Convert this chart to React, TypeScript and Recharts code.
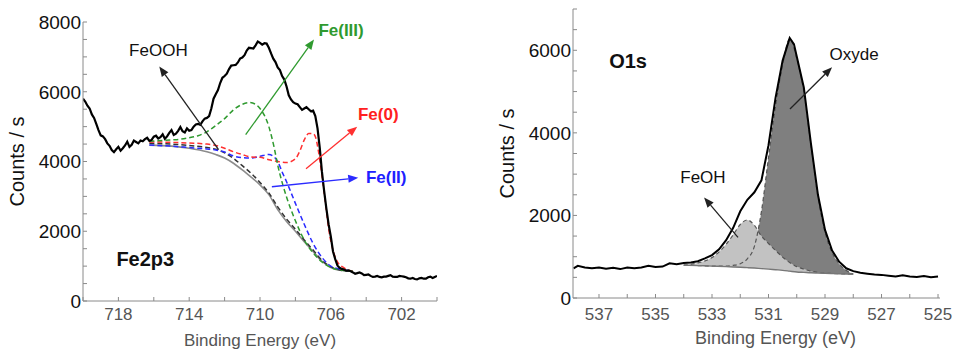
import { ComposedChart, Line, Area, XAxis, YAxis, ReferenceLine, ReferenceDot } from "recharts";

const FONT = '"Liberation Sans", Arial, Helvetica, sans-serif';
const AXIS = "#8a8a8a";

// Fe 2p3/2 — [binding energy (eV), counts/s]
const fe2pRaw: [number, number][] = [
  [720, 5800], [719.875, 5720], [719.75, 5600], [719.625, 5520], [719.5, 5350], [719.375, 5250],
  [719.25, 5080], [719.125, 4900], [719, 4750], [718.875, 4720], [718.75, 4640], [718.625, 4520],
  [718.5, 4450], [718.375, 4330], [718.25, 4270], [718.125, 4350], [718, 4420], [717.875, 4310],
  [717.75, 4380], [717.625, 4460], [717.5, 4570], [717.375, 4420], [717.25, 4480], [717.125, 4600],
  [717, 4560], [716.875, 4520], [716.75, 4600], [716.625, 4580], [716.5, 4640], [716.375, 4680],
  [716.25, 4590], [716.125, 4620], [716, 4710], [715.875, 4740], [715.75, 4660], [715.625, 4700],
  [715.5, 4780], [715.375, 4650], [715.25, 4720], [715.125, 4820], [715, 4900], [714.875, 4760],
  [714.75, 4800], [714.625, 4880], [714.5, 4990], [714.375, 4870], [714.25, 4830], [714.125, 4950],
  [714, 4880], [713.875, 4900], [713.75, 5000], [713.625, 5060], [713.5, 5080], [713.375, 5050],
  [713.25, 5150], [713.125, 5230], [713, 5250], [712.875, 5300], [712.75, 5520], [712.625, 5800],
  [712.5, 5930], [712.375, 6050], [712.25, 6250], [712.125, 6400], [712, 6450], [711.875, 6520],
  [711.75, 6650], [711.625, 6750], [711.5, 6760], [711.375, 6770], [711.25, 6840], [711.125, 6950],
  [711, 6980], [710.875, 7050], [710.75, 7180], [710.625, 7260], [710.5, 7250], [710.375, 7240],
  [710.25, 7330], [710.125, 7440], [710, 7400], [709.875, 7350], [709.75, 7390], [709.625, 7380],
  [709.5, 7260], [709.375, 7100], [709.25, 6950], [709.125, 6850], [709, 6700], [708.875, 6620],
  [708.75, 6450], [708.625, 6350], [708.5, 6150], [708.375, 5900], [708.25, 5780], [708.125, 5700],
  [708, 5660], [707.875, 5640], [707.75, 5560], [707.625, 5480], [707.5, 5520], [707.375, 5560],
  [707.25, 5500], [707.125, 5440], [707, 5460], [706.875, 5300], [706.75, 4950], [706.625, 4400],
  [706.5, 3700], [706.375, 3150], [706.25, 2650], [706.125, 2200], [706, 1850], [705.875, 1420],
  [705.75, 1200], [705.625, 1020], [705.5, 950], [705.375, 920], [705.25, 900], [705.125, 870],
  [705, 880], [704.875, 850], [704.75, 820], [704.625, 780], [704.5, 800], [704.375, 820],
  [704.25, 790], [704.125, 740], [704, 750], [703.875, 760], [703.75, 720], [703.625, 690],
  [703.5, 700], [703.375, 720], [703.25, 690], [703.125, 680], [703, 700], [702.875, 700],
  [702.75, 720], [702.625, 740], [702.5, 700], [702.375, 690], [702.25, 690], [702.125, 720],
  [702, 710], [701.875, 700], [701.75, 680], [701.625, 650], [701.5, 640], [701.375, 660],
  [701.25, 630], [701.125, 620], [701, 650], [700.875, 660], [700.75, 640], [700.625, 640],
  [700.5, 680], [700.375, 700], [700.25, 660], [700.125, 690], [700, 720],
];
const fe2pBackground: [number, number][] = [
  [716.25, 4470], [715, 4440], [714, 4380], [713, 4280], [712.5, 4200], [712, 4100], [711.5, 3950],
  [711, 3760], [710.5, 3550], [710, 3330], [709.5, 3050], [709, 2620], [708.5, 2280], [708, 2000],
  [707.5, 1700], [707, 1420], [706.5, 1140], [706, 960], [705.5, 880], [705, 860], [704.75, 850],
];
const fe2pFeOOH: [number, number][] = [
  [716.25, 4520], [715, 4500], [714, 4460], [713, 4400], [712.5, 4350], [712, 4250], [711.5, 4090],
  [711, 3880], [710.5, 3660], [710, 3400], [709.5, 3100], [709, 2700], [708.5, 2350], [708, 2060],
  [707.5, 1750], [707, 1460], [706.5, 1170], [706, 980], [705.5, 890], [705, 860], [704.75, 850],
];
const fe2pFeII: [number, number][] = [
  [716.25, 4470], [715, 4440], [714, 4400], [713, 4360], [712.5, 4330], [712, 4270], [711.5, 4160],
  [711, 4110], [710.5, 4100], [710, 4150], [709.5, 4200], [709.2, 4130], [709, 4000], [708.75, 3700],
  [708.5, 3420], [708, 2800], [707.5, 2200], [707, 1650], [706.5, 1250], [706, 1000], [705.5, 920],
  [705, 870], [704.75, 850],
];
const fe2pFe0: [number, number][] = [
  [716.25, 4560], [715, 4550], [714, 4530], [713, 4500], [712.5, 4460], [712, 4380], [711.5, 4280],
  [711, 4200], [710.5, 4130], [710, 4120], [709.5, 4050], [709, 4000], [708.5, 3970], [708, 4080],
  [707.75, 4300], [707.5, 4620], [707.25, 4800], [707, 4800], [706.85, 4680], [706.7, 4300],
  [706.5, 3600], [706.3, 2800], [706.1, 2000], [705.9, 1500], [705.6, 1100], [705.25, 950],
  [705, 880], [704.75, 850],
];
const fe2pFeIII: [number, number][] = [
  [716.25, 4580], [715, 4620], [714.5, 4640], [714, 4680], [713.5, 4740], [713, 4850], [712.5, 5030],
  [712, 5230], [711.5, 5480], [711, 5640], [710.6, 5690], [710.25, 5640], [710, 5520], [709.5, 5000],
  [709.2, 4400], [709, 3900], [708.75, 3400], [708.5, 2980], [708.25, 2620], [708, 2300],
  [707.5, 1750], [707, 1380], [706.5, 1120], [706, 960], [705.5, 890], [705, 860], [704.75, 850],
];

// O 1s — [binding energy (eV), counts/s]
const o1sRaw: [number, number][] = [
  [537.9, 720], [537.75, 780], [537.5, 740], [537.25, 720], [537, 740], [536.75, 710],
  [536.5, 730], [536.25, 700], [536, 740], [535.75, 720], [535.5, 740], [535.25, 780],
  [535, 750], [534.75, 760], [534.5, 840], [534.25, 820], [534, 850], [533.75, 860],
  [533.5, 890], [533.25, 960], [533, 1040], [532.75, 1180], [532.5, 1400], [532.25, 1700],
  [532, 2100], [531.75, 2380], [531.5, 2560], [531.25, 2850], [531, 3700], [530.75, 4850],
  [530.5, 5750], [530.25, 6300], [530.1, 6150], [530, 5850], [529.75, 5100], [529.5, 3750],
  [529.25, 2500], [529, 1650], [528.75, 1150], [528.5, 880], [528.25, 720], [528, 650],
  [527.75, 610], [527.5, 590], [527.25, 570], [527, 560], [526.75, 540], [526.5, 520],
  [526.25, 550], [526, 520], [525.75, 510], [525.5, 530], [525.25, 500], [525, 520],
];
const o1sFitEnergy = [534, 533.5, 533, 532.5, 532.25, 532, 531.75, 531.5, 531.25, 531, 530.75, 530.5, 530.25, 530, 529.75, 529.5, 529.25, 529, 528.75, 528.5, 528.25, 528];
const o1sBackground = [795, 785, 772, 760, 752, 745, 735, 725, 712, 700, 685, 670, 650, 630, 620, 610, 604, 598, 593, 588, 582, 575];
const o1sOxyde = [795, 785, 772, 775, 790, 830, 950, 1250, 2100, 3400, 4650, 5650, 6280, 5800, 5000, 3700, 2450, 1600, 1100, 830, 670, 580];
const o1sFeOH = [795, 850, 980, 1300, 1530, 1780, 1890, 1760, 1500, 1320, 1150, 990, 860, 760, 700, 650, 620, 600, 593, 588, 582, 575];

const fe2pXTicks = [720, 718, 716, 714, 712, 710, 708, 706, 704, 702, 700];
const fe2pXLabels = [718, 714, 710, 706, 702];
const fe2pYTicks = [0, 500, 1000, 1500, 2000, 2500, 3000, 3500, 4000, 4500, 5000, 5500, 6000, 6500, 7000, 7500, 8000];
const fe2pYLabels = [0, 2000, 4000, 6000, 8000];
const o1sXTicks = [537, 536, 535, 534, 533, 532, 531, 530, 529, 528, 527, 526, 525];
const o1sXLabels = [537, 535, 533, 531, 529, 527, 525];
const o1sYTicks = [0, 500, 1000, 1500, 2000, 2500, 3000, 3500, 4000, 4500, 5000, 5500, 6000, 6500, 7000];
const o1sYLabels = [0, 2000, 4000, 6000];

const pts = (rows: [number, number][]) => rows.map(([e, c]) => ({ e, c }));
const o1sFit = o1sFitEnergy.map((e, i) => ({ e, bg: o1sBackground[i], oxyde: o1sOxyde[i], feoh: o1sFeOH[i] }));

const xTick = (labels: number[], gap: number) => (p: any) => {
  const v = p.payload.value;
  const axisY = p.y - gap;
  return (
    <g>
      <line x1={p.x} x2={p.x} y1={axisY} y2={axisY - 4} stroke={AXIS} />
      {labels.includes(v) && (
        <text x={p.x} y={p.y} dy="0.72em" textAnchor="middle" fill="#555" fontSize={17}>{v}</text>
      )}
    </g>
  );
};

const yTick = (labels: number[], gap: number) => (p: any) => {
  const v = p.payload.value;
  const axisX = p.x + gap;
  return (
    <g>
      <line x1={axisX} x2={axisX + 4} y1={p.y} y2={p.y} stroke={AXIS} />
      {labels.includes(v) && (
        <text x={p.x} y={p.y} dy="0.36em" textAnchor="end" fill="#111" fontSize={19}>{v}</text>
      )}
    </g>
  );
};

const arrow = (color: string) => (p: any) => {
  const { x1, y1, x2, y2 } = p;
  const a = Math.atan2(y2 - y1, x2 - x1);
  const bx = x2 - 10 * Math.cos(a);
  const by = y2 - 10 * Math.sin(a);
  const s = 4 * Math.sin(a);
  const c = 4 * Math.cos(a);
  return (
    <g>
      <line x1={x1} y1={y1} x2={bx} y2={by} stroke={color} strokeWidth={1.3} />
      <polygon points={`${x2},${y2} ${bx + s},${by - c} ${bx - s},${by + c}`} fill={color} />
    </g>
  );
};

const note = (x: number, y: number, value: string, fill: string, fontSize: number, bold = false) => (
  <ReferenceDot
    x={x} y={y} r={0} fill="none" stroke="none"
    label={{ value, position: "center", fill, fontSize, fontWeight: bold ? "bold" : "normal" }}
  />
);

function Fe2pChart() {
  const dash = { dot: false, activeDot: false, isAnimationActive: false, type: "monotone" as const, strokeWidth: 1.5, strokeDasharray: "5 3" };
  return (
    <ComposedChart width={480} height={354} margin={{ top: 22, right: 43, bottom: 3, left: 0 }}>
      <XAxis
        type="number" dataKey="e" domain={[700, 720]} reversed allowDataOverflow
        ticks={fe2pXTicks} interval={0} tickSize={0} tickMargin={7} tickLine={false}
        axisLine={{ stroke: AXIS }} height={50} tick={xTick(fe2pXLabels, 7)}
        label={{ value: "Binding Energy (eV)", position: "insideBottom", offset: 5, fill: "#555", fontSize: 17 }}
      />
      <YAxis
        type="number" domain={[0, 8000]} allowDataOverflow ticks={fe2pYTicks} interval={0}
        tickSize={0} tickMargin={2} tickLine={false} axisLine={{ stroke: AXIS }} width={83}
        tick={yTick(fe2pYLabels, 2)}
        label={{ value: "Counts / s", angle: -90, position: "insideLeft", offset: 17, fill: "#111", fontSize: 20, style: { textAnchor: "middle" } }}
      />
      <Line data={pts(fe2pBackground)} dataKey="c" stroke="#8c8c8c" strokeWidth={1.6} dot={false} activeDot={false} type="monotone" isAnimationActive={false} />
      <Line data={pts(fe2pFeOOH)} dataKey="c" stroke="#333" {...dash} />
      <Line data={pts(fe2pFeII)} dataKey="c" stroke="#2b2bff" {...dash} />
      <Line data={pts(fe2pFe0)} dataKey="c" stroke="#ff3030" {...dash} />
      <Line data={pts(fe2pFeIII)} dataKey="c" stroke="#2f9a2f" {...dash} />
      <Line data={pts(fe2pRaw)} dataKey="c" stroke="#000" strokeWidth={2.2} dot={false} activeDot={false} isAnimationActive={false} />

      <ReferenceLine segment={[{ x: 712.34, y: 4339 }, { x: 715.69, y: 6724 }]} ifOverflow="visible" shape={arrow("#222")} />
      <ReferenceLine segment={[{ x: 710.81, y: 4770 }, { x: 706.95, y: 7500 }]} ifOverflow="visible" shape={arrow("#2f9a2f")} />
      <ReferenceLine segment={[{ x: 707.4, y: 3793 }, { x: 704.51, y: 5000 }]} ifOverflow="visible" shape={arrow("#ff3030")} />
      <ReferenceLine segment={[{ x: 709.33, y: 3276 }, { x: 704.45, y: 3534 }]} ifOverflow="visible" shape={arrow("#2b2bff")} />

      {note(715.74, 7184, "FeOOH", "#111", 17)}
      {note(705.42, 7759, "Fe(III)", "#2f9a2f", 17, true)}
      {note(703.32, 5374, "Fe(0)", "#ff2020", 17, true)}
      {note(702.87, 3563, "Fe(II)", "#2020ff", 17, true)}
      {note(716.48, 1207, "Fe2p3", "#111", 20, true)}
    </ComposedChart>
  );
}

function O1sChart() {
  const outline = { dot: false, activeDot: false, isAnimationActive: false, type: "monotone" as const, stroke: "#555", strokeWidth: 1.2, strokeDasharray: "4 3" };
  return (
    <ComposedChart width={476} height={354} margin={{ top: 9, right: 16, bottom: 6, left: 0 }}>
      <XAxis
        type="number" dataKey="e" domain={[524.93, 537.92]} reversed allowDataOverflow
        ticks={o1sXTicks} interval={0} tickSize={0} tickMargin={10} tickLine={false}
        axisLine={{ stroke: AXIS }} height={50} tick={xTick(o1sXLabels, 10)}
        label={{ value: "Binding Energy (eV)", position: "insideBottom", offset: 4, dx: 19, fill: "#555", fontSize: 18 }}
      />
      <YAxis
        type="number" domain={[0, 7000]} allowDataOverflow ticks={o1sYTicks} interval={0}
        tickSize={0} tickMargin={2} tickLine={false} axisLine={{ stroke: AXIS }} width={93}
        tick={yTick(o1sYLabels, 2)}
        label={{ value: "Counts / s", angle: -90, position: "insideLeft", offset: 27, fill: "#111", fontSize: 20, style: { textAnchor: "middle" } }}
      />
      <Area data={o1sFit} dataKey={(d: any) => [d.bg, d.oxyde]} type="monotone" fill="#7f7f7f" fillOpacity={1} stroke="none" isAnimationActive={false} />
      <Area data={o1sFit} dataKey={(d: any) => [d.bg, d.feoh]} type="monotone" fill="#c2c2c2" fillOpacity={1} stroke="none" isAnimationActive={false} />
      <Line data={o1sFit} dataKey="oxyde" {...outline} />
      <Line data={o1sFit} dataKey="feoh" {...outline} />
      <Line data={o1sFit} dataKey="bg" stroke="#777" strokeWidth={1.4} dot={false} activeDot={false} type="monotone" isAnimationActive={false} />
      <Line data={pts(o1sRaw)} dataKey="c" stroke="#000" strokeWidth={2} dot={false} activeDot={false} isAnimationActive={false} />

      <ReferenceLine segment={[{ x: 532.08, y: 1470 }, { x: 533.28, y: 2434 }]} ifOverflow="visible" shape={arrow("#222")} />
      <ReferenceLine segment={[{ x: 530.24, y: 4578 }, { x: 528.75, y: 5590 }]} ifOverflow="visible" shape={arrow("#222")} />

      {note(533.32, 2940, "FeOH", "#111", 17)}
      {note(527.97, 5904, "Oxyde", "#111", 17)}
      {note(535.97, 5735, "O1s", "#111", 20, true)}
    </ComposedChart>
  );
}

export default function App() {
  return (
    <div style={{ position: "absolute", left: 0, top: 0, width: 956, height: 354, background: "#fff", fontFamily: FONT }}>
      <div style={{ position: "absolute", left: 0, top: 0 }}>
        <Fe2pChart />
      </div>
      <div style={{ position: "absolute", left: 480, top: 0 }}>
        <O1sChart />
      </div>
    </div>
  );
}
